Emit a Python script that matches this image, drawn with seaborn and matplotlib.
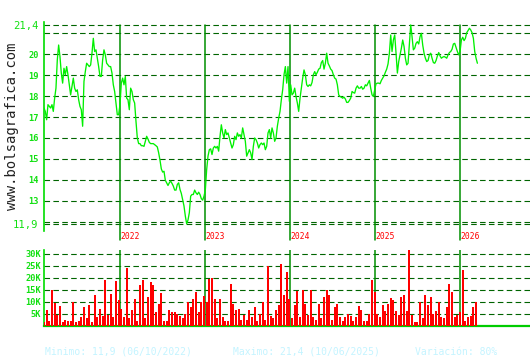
import numpy as np
import pandas as pd
import matplotlib
matplotlib.use("Agg")
import matplotlib.pyplot as plt
import seaborn as sns

# ---------------- data ----------------
first_date = "2021-02-07"
last_date = "2026-03-15"

prices = [
    17.43, 17.27, 16.87, 17.59, 17.51, 17.43, 17.59, 17.27, 17.90, 18.38,
    19.73, 20.44, 19.89, 19.10, 18.62, 19.33, 19.02, 19.41, 19.02, 18.54,
    18.06, 18.46, 18.86, 18.38, 18.22, 18.30, 17.83, 17.51, 17.35, 16.56,
    18.70, 19.17, 19.57, 19.49, 19.41, 19.49, 20.05, 20.76, 20.13, 20.21,
    19.81, 19.41, 18.94, 18.94, 19.73, 20.21, 19.97, 19.57, 19.49, 19.41,
    19.41, 19.10, 18.54, 18.22, 17.67, 17.11, 17.11, 17.59, 18.62, 18.86,
    18.54, 18.94, 17.90, 17.83, 17.35, 18.38, 18.22, 17.83, 17.67, 16.79,
    16.00, 15.73, 15.73, 15.63, 15.63, 15.60, 15.84, 16.08, 15.95, 15.79,
    15.73, 15.73, 15.73, 15.68, 15.63, 15.57, 15.29, 14.94, 14.52, 14.37,
    14.41,
    13.98, 13.86, 13.73, 13.86, 13.94, 13.83, 13.70, 13.51, 13.51, 13.78,
    13.86, 13.54, 13.35, 13.06, 12.75, 12.27, 11.90, 12.08, 12.43, 13.22,
    13.30, 13.30, 13.51, 13.38, 13.30, 13.41, 13.30, 13.10, 13.03, 13.22,
    13.51, 14.49, 15.13, 15.44, 15.48, 15.21, 15.52, 15.60, 15.52, 15.60,
    15.37, 16.08, 16.63, 16.24, 16.00, 16.40, 16.16, 16.24, 16.00, 15.76,
    15.52, 15.68, 16.08, 15.92, 16.24, 16.08, 16.16, 16.00, 16.48, 16.16,
    15.84, 15.13, 15.29, 15.44, 15.29, 14.97, 15.60, 16.00, 15.92, 15.76,
    15.52, 15.68, 15.76, 15.68, 15.76, 15.44, 15.60, 16.24, 16.40, 16.00,
    16.48, 16.24, 15.84, 16.00, 16.56, 16.95, 17.27, 17.83, 18.30, 19.02,
    19.41, 18.62, 19.41, 17.75, 18.54, 18.06, 18.14, 18.38, 17.98, 17.67,
    17.27, 17.90, 18.38, 18.86, 19.25, 19.02, 18.54, 18.46, 18.54, 18.49,
    18.65, 19.02, 19.17, 19.02, 19.14, 19.29, 19.33, 19.60, 19.70, 19.29,
    19.57, 20.05, 19.57, 19.44, 19.29, 19.22, 19.02, 18.86, 18.81, 18.54,
    18.06, 17.98, 17.95, 17.90, 17.95, 17.86, 17.70, 17.70, 17.79, 17.90,
    18.22, 18.17, 18.14, 18.38, 18.49, 18.38, 18.38, 18.46, 18.33, 18.38,
    18.54, 18.49, 18.62, 18.75, 18.38, 18.06, 17.98, 18.30, 18.59, 18.62,
    18.62, 18.59, 18.75, 18.86, 18.97, 19.14, 19.29, 19.54, 20.05, 20.92,
    20.13, 20.68, 20.92, 20.05, 19.10, 19.65, 19.97, 20.29, 20.68, 20.37,
    19.81, 19.49, 19.57, 20.52, 21.40, 20.84, 20.21, 20.29, 20.52, 20.60,
    20.49, 20.84, 21.00, 20.44, 20.05, 19.81, 19.65, 19.70, 19.97, 20.05,
    19.81, 19.60, 19.57, 19.70, 19.92, 20.08, 19.92, 19.81, 19.86, 19.89,
    19.86, 19.81, 19.97, 20.08, 20.13, 20.24, 20.49, 20.52, 20.33, 20.13,
    19.97, 20.13, 20.68, 20.81, 20.65, 20.76, 21.03, 21.13, 21.24, 21.16,
    21.03, 20.76, 20.13, 19.81, 19.57,
]

volumes_k = [
    1.5, 6.4, 2.0, 15.0, 9.5, 4.5, 8.0, 1.5, 2.5, 2.0,
    2.0, 10.0, 1.5, 2.0, 3.6, 7.8, 3.0, 8.5, 1.5, 12.6,
    3.5, 7.0, 4.0, 19.0, 4.3, 13.0, 3.5, 18.5, 10.5, 7.0,
    3.5, 24.0, 3.0, 6.5, 11.0, 2.0, 16.8, 19.0, 3.0, 12.0,
    18.0, 16.8, 5.5, 9.0, 13.5, 2.0, 2.0, 6.5, 5.5, 5.5,
    5.0, 4.0, 3.0, 5.0, 10.0, 7.8, 11.0, 14.0, 5.5, 10.0,
    12.2, 10.0, 19.3, 19.9, 11.0, 3.2, 11.0, 3.5, 1.8, 2.0,
    17.2, 9.0, 6.5, 7.0, 2.5, 4.3, 2.5, 6.5, 3.5, 7.8,
    2.0, 5.0, 9.8, 2.5, 25.0, 4.0, 3.0, 6.5, 8.5, 25.5,
    12.6, 22.4, 11.0, 3.0, 8.5, 14.3, 3.5, 15.0, 9.0, 4.5,
    15.0, 3.5, 2.5, 9.0, 3.0, 12.0, 15.0, 12.6, 2.5, 7.8,
    8.9, 3.5, 2.0, 3.5, 5.0, 4.0, 2.0, 3.5, 8.0, 6.5,
    2.0, 2.0, 5.0, 19.0, 14.0, 5.0, 3.5, 8.5, 6.0, 9.0,
    11.5, 10.5, 6.0, 4.5, 12.0, 12.6, 6.0, 31.5, 4.5, 1.5,
    1.5, 10.0, 3.0, 12.6, 8.5, 12.0, 5.0, 6.0, 9.8, 3.5,
    3.0, 7.8, 17.2, 14.0, 3.5, 4.5, 5.5, 23.0, 2.0, 3.5,
    4.0, 7.8, 9.8,
]

year_marks = [2022, 2023, 2024, 2025, 2026]
price_ticks = [11.9, 12, 13, 14, 15, 16, 17, 18, 19, 20, 21, 21.4]
price_tick_labels = ["11,9", "", "13", "14", "15", "16", "17", "18", "19", "20", "", "21,4"]
vol_ticks = [5, 10, 15, 20, 25, 30]
vol_tick_labels = ["5K", "10K", "15K", "20K", "25K", "30K"]
caption_min = "Minimo: 11,9 (06/10/2022)"
caption_max = "Maximo: 21,4 (10/06/2025)"
caption_var = "Variación: 80%"
watermark = "www.bolsagrafica.com"

# ---------------- styling ----------------
sns.set_style("white")
plt.rcParams["font.family"] = ["DejaVu Sans Mono", "DejaVu Sans"]

GREEN_LINE = "#00f000"
GREEN_AXIS = "#00dd00"
GREEN_GRID = "#006400"
GREEN_YEAR = "#009000"
GREEN_LABEL = "#11e011"
RED = "#ff0000"
CAPTION = "#c4f4ff"

dates = pd.date_range(first_date, last_date, periods=len(prices))
vol_dates = dates[::2]
df = pd.DataFrame({"date": dates, "price": prices})
dfv = pd.DataFrame({"date": vol_dates, "vol": volumes_k})

W, H = 530, 360
fig = plt.figure(figsize=(W / 100, H / 100), dpi=100)
fig.patch.set_facecolor("white")


def box(l, t, r, b):
    return [l / W, 1 - b / H, (r - l) / W, (b - t) / H]


ax = fig.add_axes(box(43.5, 22, 530, 230.7))
axv = fig.add_axes(box(43.5, 250, 530, 325.5))

xmin, xmax = pd.Timestamp("2021-02-05"), pd.Timestamp("2026-10-27")

# ---- price panel ----
sns.lineplot(data=df, x="date", y="price", ax=ax, color=GREEN_LINE,
             linewidth=0.95, zorder=4)
ax.set_xlim(xmin, xmax)
ax.set_ylim(11.57, 21.54)
ax.set_xticks([])
ax.set_xlabel("")
ax.set_ylabel("")
ax.set_yticks(price_ticks)
ax.set_yticklabels(price_tick_labels)
ax.yaxis.grid(True, color=GREEN_GRID, linestyle=(0, (5, 3)), linewidth=0.8)
ax.xaxis.grid(False)
ax.set_axisbelow(True)
ax.tick_params(axis="y", length=0, pad=3.5, colors=GREEN_LABEL)
for lbl in ax.get_yticklabels():
    if lbl.get_text() in ("21,4", "11,9"):
        lbl.set_fontsize(7.6)
        lbl.set_fontweight("normal")
    else:
        lbl.set_fontsize(6.2)
        lbl.set_fontweight("bold")
for s in ("top", "right", "bottom"):
    ax.spines[s].set_visible(False)
ax.spines["left"].set_color(GREEN_AXIS)
ax.spines["left"].set_linewidth(1.2)

for y in year_marks:
    d = pd.Timestamp(f"{y}-01-01")
    ax.axvline(d, ymin=-0.0446, ymax=0.9856, color=GREEN_YEAR, lw=1.1,
               clip_on=False, zorder=3)
    ax.text(d + pd.Timedelta(days=2), -0.026, str(y),
            transform=ax.get_xaxis_transform(), color=RED, fontsize=5.8,
            va="center", ha="left")

# ---- volume panel ----
axv.bar(dfv["date"], dfv["vol"], width=8, color=RED, linewidth=0, zorder=3)
axv.set_xlim(xmin, xmax)
axv.set_ylim(0, 31.46)
axv.set_xticks([])
axv.set_yticks(vol_ticks)
axv.set_yticklabels(vol_tick_labels)
axv.yaxis.grid(True, color=GREEN_GRID, linestyle=(0, (5, 3)), linewidth=0.8)
axv.xaxis.grid(False)
axv.set_axisbelow(True)
axv.tick_params(axis="y", length=0, pad=1.5, colors=GREEN_LABEL,
                labelsize=6.2)
for lbl in axv.get_yticklabels():
    lbl.set_fontweight("bold")
for s in ("top", "right"):
    axv.spines[s].set_visible(False)
axv.spines["left"].set_color(GREEN_AXIS)
axv.spines["left"].set_linewidth(1.2)
axv.spines["bottom"].set_color("#00cc00")
axv.spines["bottom"].set_linewidth(1.6)
for y in year_marks:
    axv.axvline(pd.Timestamp(f"{y}-01-01"), color=GREEN_YEAR, lw=1.1, zorder=2)

# ---- texts ----
fig.text(12 / W, 1 - 126 / H, watermark, rotation=90, fontsize=10,
         color="#222222", ha="center", va="center")
fig.text(45 / W, 1 - 352 / H, caption_min, color=CAPTION, fontsize=7,
         ha="left", va="center")
fig.text(233 / W, 1 - 352 / H, caption_max, color=CAPTION, fontsize=7,
         ha="left", va="center")
fig.text(415 / W, 1 - 352 / H, caption_var, color=CAPTION, fontsize=7,
         ha="left", va="center")

fig.savefig("out.png", dpi=100, facecolor="white")
